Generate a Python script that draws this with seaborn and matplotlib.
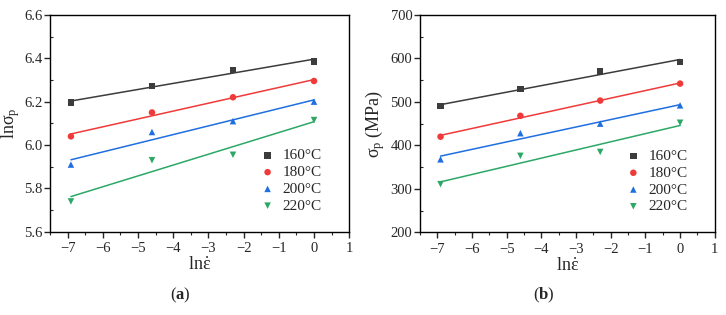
import matplotlib
matplotlib.use('Agg')
import matplotlib.pyplot as plt
import seaborn as sns
import numpy as np
import pandas as pd
from matplotlib.ticker import MultipleLocator

# strain rates 0.001, 0.01, 0.1, 1 s^-1 -> ln values
ln_rate = [-6.908, -4.605, -2.303, 0.0]
temps = ['160°C', '180°C', '200°C', '220°C']
ln_sigma = {
  '160°C': [6.195, 6.272, 6.345, 6.385],
  '180°C': [6.040, 6.150, 6.220, 6.295],
  '200°C': [5.910, 6.060, 6.110, 6.200],
  '220°C': [5.740, 5.930, 5.955, 6.115],
}
sigma = {
  '160°C': [490, 530, 570, 592],
  '180°C': [420, 468, 503, 542],
  '200°C': [368, 428, 450, 492],
  '220°C': [311, 376, 385, 452],
}

colors = ['#3c3c3c', '#f03a3a', '#1f6fe0', '#2ca866']
markers = ['s', 'o', '^', 'v']

sns.set_style('ticks')
plt.rcParams['font.family'] = ['Liberation Serif', 'DejaVu Serif']
plt.rcParams['mathtext.fontset'] = 'custom'
plt.rcParams['mathtext.rm'] = 'Liberation Serif'
plt.rcParams['mathtext.it'] = 'Liberation Serif'
plt.rcParams['mathtext.bf'] = 'Liberation Serif:bold'
plt.rcParams['axes.linewidth'] = 1.0


def make_df(d):
  rows = []
  for t in temps:
    for x, y in zip(ln_rate, d[t]):
      rows.append({'x': x, 'y': y, 'T': t})
  return pd.DataFrame(rows)


fig = plt.figure(figsize=(7.26, 3.15), dpi=100)
ax1 = fig.add_axes([0.069, 0.264, 0.412, 0.689])
ax2 = fig.add_axes([0.5785, 0.262, 0.406, 0.691])

panels = [
  (ax1, make_df(ln_sigma), (5.6, 6.6), 0.2, 0.1, r'ln$\sigma_\mathrm{p}$', '{:.1f}', -0.095),
  (ax2, make_df(sigma), (200, 700), 100, 50, r'$\sigma_\mathrm{p}$ (MPa)', '{:.0f}', -0.112),
]

for ax, df, ylim, major, minor, ylab, fmt, lx in panels:
  for t, c, m in zip(temps, colors, markers):
    sub = df[df['T'] == t]
    sns.regplot(data=sub, x='x', y='y', ax=ax, scatter=False, ci=None,
                truncate=True, color=c, line_kws={'linewidth': 1.1})
    sns.scatterplot(data=sub, x='x', y='y', ax=ax, color=c, marker=m,
                    s=22, edgecolor='none', label=t, zorder=3)
  ax.set_xlim(-7.5, 1)
  ax.set_ylim(*ylim)
  ax.xaxis.set_major_locator(MultipleLocator(1))
  ax.xaxis.set_minor_locator(MultipleLocator(0.5))
  ax.yaxis.set_major_locator(MultipleLocator(major))
  ax.yaxis.set_minor_locator(MultipleLocator(minor))
  ax.set_xticks(np.arange(-7, 2, 1))
  ax.set_xticklabels([str(int(v)).replace('-', '\u2212') for v in np.arange(-7, 2, 1)])
  yt = np.arange(ylim[0], ylim[1] + major / 2, major)
  ax.set_yticks(yt)
  ax.set_yticklabels([fmt.format(v) for v in yt])
  ax.tick_params(which='major', direction='out', length=4, width=1, labelsize=10.5,
                 top=False, right=False)
  ax.tick_params(axis='y', which='major', pad=1.5)
  ax.tick_params(axis='y', which='minor', direction='in', length=2, width=0.8, right=False)
  ax.tick_params(axis='x', which='minor', direction='out', length=2, width=0.8, top=False)
  ax.set_xlabel(r'ln$\dot{\varepsilon}$', fontsize=13, labelpad=1)
  ax.set_ylabel(ylab, fontsize=13)
  ax.yaxis.set_label_coords(lx, 0.5)
  for sp in ax.spines.values():
    sp.set_visible(True)
    sp.set_color('black')
  ax.legend(loc='lower right', frameon=False, fontsize=11, handlelength=1.0,
            handletextpad=0.5, borderaxespad=0.5, labelspacing=0.2,
            bbox_to_anchor=(0.955, 0.025))

fig.text(0.249, 0.062, r'($\mathbf{a}$)', ha='center', va='center', fontsize=12)
fig.text(0.749, 0.062, r'($\mathbf{b}$)', ha='center', va='center', fontsize=12)

plt.savefig('out.png', dpi=100)
